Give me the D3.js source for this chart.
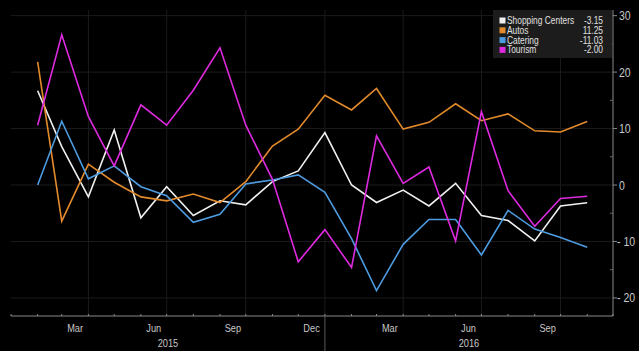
<!DOCTYPE html>
<html>
<head lang="en">
    <meta charset="UTF-8">
    <title></title>
    <script src="https://cdnjs.cloudflare.com/ajax/libs/d3/7.8.5/d3.min.js" charset="UTF-8"></script>
    <style>
        body{margin:0;background:#000;}
        text{font-family:"Liberation Sans",Arial,sans-serif;}
    </style>
</head>
<body>
<script>
    // monthly readings, Jan 2015 .. Oct 2016
    var startMonth = new Date(2015, 0, 1);
    var shopping = [16.7, 6.8, -2.1, 9.75, -5.8, -0.3, -5.4, -2.8, -3.5, 0.6, 2.5, 9.3, 0.0, -3.1, -0.9, -3.7, 0.3, -5.4, -6.3, -9.9, -3.7, -3.15];
    var autos = [21.8, -6.4, 3.7, 0.5, -2.1, -2.8, -1.6, -3.1, 0.6, 6.9, 9.9, 15.9, 13.3, 17.1, 9.9, 11.1, 14.4, 11.4, 12.6, 9.6, 9.4, 11.25];
    var catering = [0.0, 11.3, 1.1, 3.4, -0.3, -1.9, -6.6, -5.2, 0.2, 0.9, 1.8, -1.3, -9.5, -18.7, -10.5, -6.1, -6.1, -12.4, -4.5, -7.8, -9.3, -11.03];
    var tourism = [10.6, 26.6, 12.1, 3.4, 14.2, 10.6, 16.8, 24.3, 10.6, 1.0, -13.6, -7.9, -14.6, 8.7, 0.3, 3.2, -9.9, 13.0, -1.0, -7.3, -2.4, -2.00];

    var seriesNames = ["Shopping Centers", "Autos", "Catering", "Tourism"];
    var seriesColors = ["#f0f0f0", "#e38b2c", "#4d9be0", "#dd2adf"];
    var seriesValues = [shopping, autos, catering, tourism];

    var monthLabels = ["Mar", "Jun", "Sep", "Dec", "Mar", "Jun", "Sep"];
    var yearLabels = ["2015", "2016"];
    var yTicks = [30, 20, 10, 0, -10, -20];

    var W = 639, H = 351;
    var svg = d3.select("body").append("svg")
            .attr("width", W).attr("height", H)
            .style("background", "#000");

    var x = d3.scaleTime()
            .domain([new Date(2015, 0, 1), new Date(2016, 11, 1)])
            .range([11, 613]);
    var y = d3.scaleLinear()
            .domain([-23.2, 31.0])
            .range([316, 10]);

    // narrow look: squeeze text horizontally
    function label(g, tx, ty, str, size, anchor, fill) {
        return g.append("text")
                .attr("transform", "translate(" + tx + "," + ty + ") scale(0.84,1)")
                .attr("text-anchor", anchor || "start")
                .attr("font-size", size)
                .attr("fill", fill || "#c8c8c8")
                .text(str);
    }

    // faint grid
    var grid = svg.append("g");
    grid.selectAll("line.h").data(yTicks).enter().append("line")
            .attr("x1", 11).attr("x2", 613)
            .attr("y1", function(d){ return y(d); })
            .attr("y2", function(d){ return y(d); })
            .attr("stroke", "#1b1b1b").attr("stroke-width", 1);
    var quarters = [];
    for (var q = 3; q < 24; q += 3) quarters.push(d3.timeMonth.offset(startMonth, q));
    grid.selectAll("line.v").data(quarters).enter().append("line")
            .attr("x1", function(d){ return x(d); })
            .attr("x2", function(d){ return x(d); })
            .attr("y1", 10).attr("y2", 316)
            .attr("stroke", "#1b1b1b").attr("stroke-width", 1);

    // x axis
    var months = d3.timeMonth.range(new Date(2015, 0, 1), new Date(2016, 11, 2));
    svg.append("line")
            .attr("x1", 11).attr("x2", 613).attr("y1", 316).attr("y2", 316)
            .attr("stroke", "#8a8a8a");
    svg.selectAll("line.mt").data(months).enter().append("line")
            .attr("x1", function(d){ return x(d); })
            .attr("x2", function(d){ return x(d); })
            .attr("y1", 314).attr("y2", 316)
            .attr("stroke", "#8a8a8a");
    monthLabels.forEach(function(m, i){
        var d = d3.timeMonth.offset(startMonth, 2 + i * 3);
        var cx = (x(d) + x(d3.timeMonth.offset(d, 1))) / 2;
        label(svg, cx, 332, m, 11, "middle");
    });
    var jan16 = new Date(2016, 0, 1);
    svg.append("line")
            .attr("x1", x(jan16)).attr("x2", x(jan16))
            .attr("y1", 316).attr("y2", 351)
            .attr("stroke", "#5a5a5a");
    label(svg, (x(startMonth) + x(jan16)) / 2, 347, yearLabels[0], 11, "middle");
    label(svg, (x(jan16) + x(new Date(2016, 11, 1))) / 2, 347, yearLabels[1], 11, "middle");

    // y axis on the right
    svg.append("line")
            .attr("x1", 613).attr("x2", 613).attr("y1", 10).attr("y2", 316)
            .attr("stroke", "#8a8a8a");
    svg.selectAll("line.yt").data(yTicks).enter().append("line")
            .attr("x1", 613).attr("x2", 617)
            .attr("y1", function(d){ return y(d); })
            .attr("y2", function(d){ return y(d); })
            .attr("stroke", "#8a8a8a");
    svg.selectAll("line.ym").data([25, 15, 5, -5, -15]).enter().append("line")
            .attr("x1", 610).attr("x2", 613)
            .attr("y1", function(d){ return y(d); })
            .attr("y2", function(d){ return y(d); })
            .attr("stroke", "#6a6a6a");
    yTicks.forEach(function(t){
        label(svg, t < 0 ? 617 : 619, y(t) + 4.5, t < 0 ? "- " + Math.abs(t) : String(t), 12.5, "start");
    });

    // series lines
    var line = d3.line()
            .x(function(d, i){ return x(d3.timeMonth.offset(startMonth, i + 1)); })
            .y(function(d){ return y(d); });
    svg.selectAll("path.series").data(seriesValues).enter().append("path")
            .attr("d", line)
            .attr("fill", "none")
            .attr("stroke", function(d, i){ return seriesColors[i]; })
            .attr("stroke-width", 1.6)
            .attr("stroke-linejoin", "miter");

    // legend
    var lg = svg.append("g");
    lg.append("rect")
            .attr("x", 493).attr("y", 10).attr("width", 119).attr("height", 48)
            .attr("fill", "#1c1c1c");
    seriesNames.forEach(function(name, i){
        var cy = 20.5 + i * 9.8;
        lg.append("rect")
                .attr("x", 499.5).attr("y", cy - 3).attr("width", 6).attr("height", 6)
                .attr("fill", seriesColors[i]);
        label(lg, 507, cy + 3.5, name, 10, "start", "#e0e0e0");
        var v = seriesValues[i][seriesValues[i].length - 1];
        label(lg, 603, cy + 3.5, v.toFixed(2), 10, "end", "#e0e0e0");
    });
</script>
</body>
</html>
